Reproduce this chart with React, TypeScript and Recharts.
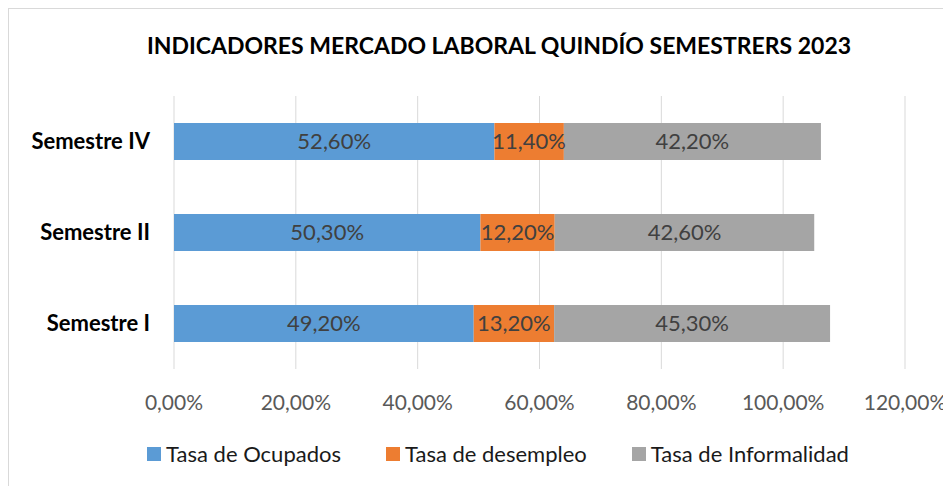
import React from 'react';
import { BarChart, Bar, XAxis, YAxis, CartesianGrid, LabelList, Legend } from 'recharts';

const semestres = ['Semestre IV', 'Semestre II', 'Semestre I'];
const ocupados = [52.6, 50.3, 49.2];
const desempleo = [11.4, 12.2, 13.2];
const informalidad = [42.2, 42.6, 45.3];
const xTicks = [0, 20, 40, 60, 80, 100, 120];

const series = [
  { key: 'ocupados', name: 'Tasa de Ocupados', color: '#5B9BD5' },
  { key: 'desempleo', name: 'Tasa de desempleo', color: '#ED7D31' },
  { key: 'informalidad', name: 'Tasa de Informalidad', color: '#A5A5A5' },
];

const data = semestres.map((s, i) => ({
  name: s,
  ocupados: ocupados[i],
  desempleo: desempleo[i],
  informalidad: informalidad[i],
}));

const FONT = 'Lato, "Open Sans", sans-serif';
const fmt = (v: any) => Number(v).toFixed(2).replace('.', ',') + '%';

const LegendContent = () => (
  <div style={{ display: 'flex', justifyContent: 'center', gap: 45, fontFamily: FONT, fontSize: 22, color: '#1a1a1a', paddingLeft: 82 }}>
    {series.map((s) => (
      <div key={s.key} style={{ display: 'flex', alignItems: 'center' }}>
        <span style={{ width: 14, height: 14, background: s.color, marginRight: 5, display: 'inline-block' }} />
        {s.name}
      </div>
    ))}
  </div>
);

export default function App() {
  return (
    <div style={{ position: 'relative', width: 943, height: 478, borderTop: '1px solid #d9d9d9', borderLeft: '1px solid #d9d9d9', boxSizing: 'border-box', background: '#fff' }}>
      <div style={{ position: 'absolute', top: 22, left: 0, width: 980, textAlign: 'center', fontFamily: FONT, fontWeight: 700, fontSize: 23, color: '#000' }}>
        INDICADORES MERCADO LABORAL QUINDÍO SEMESTRERS 2023
      </div>
      <BarChart
        width={942}
        height={477}
        data={data}
        layout="vertical"
        barSize={37}
        margin={{ top: 87, right: 46, left: 0, bottom: 30 }}
      >
        <CartesianGrid horizontal={false} stroke="#d9d9d9" />
        <XAxis
          type="number"
          domain={[0, 120]}
          ticks={xTicks}
          tickFormatter={fmt}
          axisLine={false}
          tickLine={false}
          tickMargin={20}
          height={60}
          tick={{ fill: '#595959', fontSize: 21, fontFamily: FONT }}
        />
        <YAxis
          type="category"
          dataKey="name"
          width={165}
          axisLine={false}
          tickLine={false}
          tickMargin={18}
          tick={{ fill: '#000', fontSize: 22, fontWeight: 700, fontFamily: FONT }}
        />
        {series.map((s) => (
          <Bar key={s.key} dataKey={s.key} name={s.name} stackId="a" fill={s.color} isAnimationActive={false}>
            <LabelList dataKey={s.key} position="center" formatter={fmt} fill="#404040" fontSize={22} fontFamily={FONT} />
          </Bar>
        ))}
        <Legend content={<LegendContent />} verticalAlign="bottom" wrapperStyle={{ bottom: 19 }} />
      </BarChart>
    </div>
  );
}
